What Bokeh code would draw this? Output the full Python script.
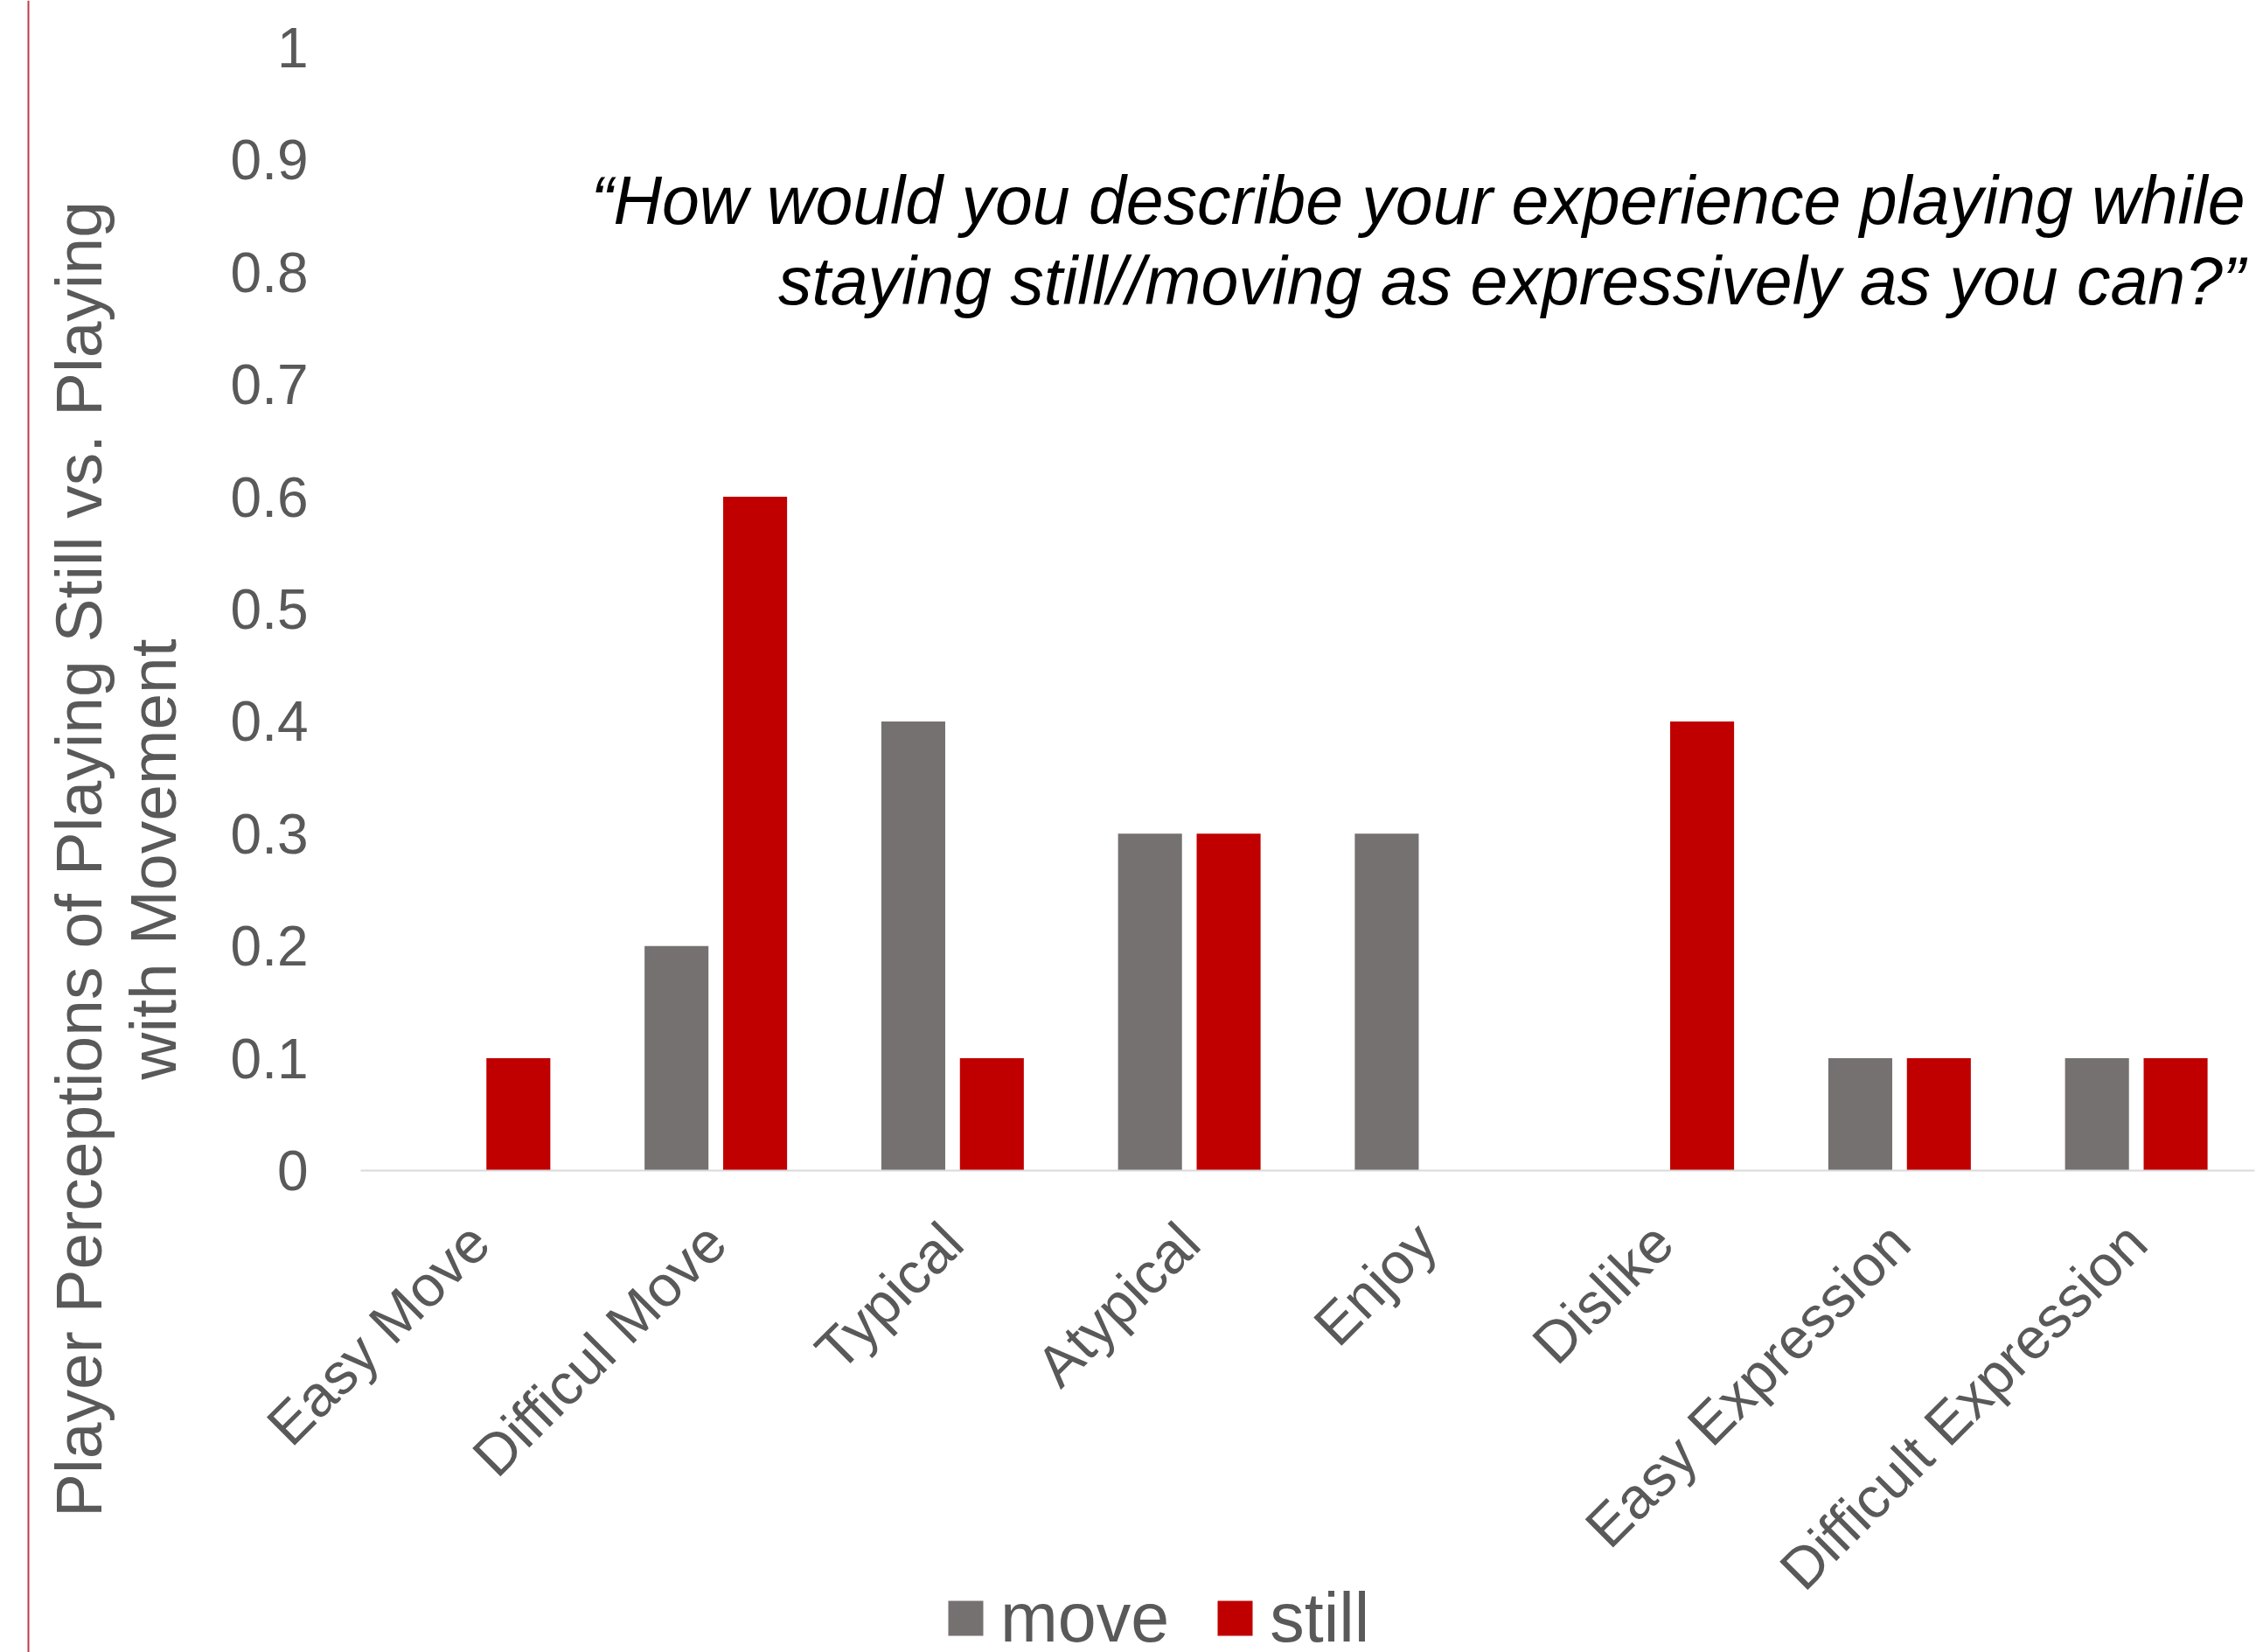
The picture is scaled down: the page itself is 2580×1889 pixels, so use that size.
import math
from bokeh.plotting import figure
from bokeh.models import (FactorRange, ColumnDataSource, Label, Legend, LegendItem,
                          Span, FixedTicker, Range1d, GridBox)
from bokeh.transform import dodge
from bokeh.embed import file_html
from bokeh.resources import INLINE

categories = ["Easy Move", "Difficul Move", "Typical", "Atypical", "Enjoy",
              "Dislike", "Easy Expression", "Difficult Expression"]
move = [0.0, 0.2, 0.4, 0.3, 0.3, 0.0, 0.1, 0.1]
still = [0.1, 0.6, 0.1, 0.3, 0.0, 0.4, 0.1, 0.1]
y_ticks = [0, 0.1, 0.2, 0.3, 0.4, 0.5, 0.6, 0.7, 0.8, 0.9, 1]
series_names = ["move", "still"]
title_lines = ["\u201cHow would you describe your experience playing while",
               "staying still//moving as expressively as you can?\u201d"]
ylabel_lines = ["Player Perceptions of Playing Still vs. Playing", "with Movement"]

GRAY = "#767171"
RED = "#C00000"
TXT = "#595959"
FONT = "Liberation Sans"

W, H = 2580, 1889
LW = 240            # left strip width
LEG_H = 70          # legend strip height (overlaps bottom of main chart)
MAIN_W = W - LW
FL, FR, FT, FB = 412, 2578, 54, 1338   # frame edges in page pixels


def bare(fig, alpha=1.0):
    fig.outline_line_color = None
    fig.background_fill_color = "white"
    fig.border_fill_color = "white"
    fig.background_fill_alpha = alpha
    fig.border_fill_alpha = alpha
    fig.grid.visible = False
    fig.frame_align = False
    return fig


# ---------------- left strip: red rule + y axis title ----------------
left = bare(figure(width=LW, height=H, x_range=Range1d(0, LW), y_range=Range1d(0, H),
                   x_axis_location=None, y_axis_location=None,
                   output_backend="svg", toolbar_location=None, min_border=0))
left.add_layout(Span(location=32, dimension="height", line_color="#C0394B", line_width=2))
for txt, base_x in zip(ylabel_lines, [119 - 30, 204 - 30]):
    left.add_layout(Label(x=base_x, y=H - 982, text=txt, angle=math.pi / 2,
                          text_align="center", text_baseline="alphabetic",
                          text_font=FONT, text_font_size="75px", text_color=TXT))

# ---------------- main chart ----------------
src = ColumnDataSource(dict(cat=categories, move=move, still=still))
p = bare(figure(width=MAIN_W, height=H, x_range=FactorRange(*categories),
                y_range=(0, 1), output_backend="svg", toolbar_location=None,
                min_border_left=FL - LW, min_border_right=W - FR,
                min_border_top=FT, min_border_bottom=H - FB))

r_move = p.vbar(x=dodge("cat", -0.166, range=p.x_range), top="move", width=0.27,
                source=src, fill_color=GRAY, line_color=None)
r_still = p.vbar(x=dodge("cat", 0.166, range=p.x_range), top="still", width=0.27,
                 source=src, fill_color=RED, line_color=None)

ya = p.yaxis[0]
ya.ticker = FixedTicker(ticks=y_ticks)
ya.major_label_overrides = {0: "0", 1: "1"}
ya.axis_line_color = None
ya.major_tick_out = 0
ya.major_tick_in = 0
ya.minor_tick_out = 0
ya.minor_tick_in = 0
ya.major_label_standoff = 60
ya.major_label_text_font = FONT
ya.major_label_text_font_size = "64px"
ya.major_label_text_color = TXT

xa = p.xaxis[0]
xa.axis_line_color = "#D9D9D9"
xa.axis_line_width = 2
xa.major_tick_out = 0
xa.major_tick_in = 0
xa.major_label_orientation = math.pi / 4
xa.major_label_standoff = 71
xa.major_label_text_font = FONT
xa.major_label_text_font_size = "66px"
xa.major_label_text_color = TXT

for txt, base_y in zip(title_lines, [258 - 30, 350 - 30]):
    p.add_layout(Label(x=2567 - FL, y=FB - base_y, x_units="screen", y_units="screen",
                       text=txt, text_align="right", text_baseline="alphabetic",
                       text_font=FONT, text_font_style="italic",
                       text_font_size="77px", text_color="black"))

# ---------------- legend strip (transparent, laid over the chart's bottom) ----------------
leg = bare(figure(width=MAIN_W, height=LEG_H, x_range=FactorRange(*categories),
                  y_range=Range1d(5, 6), x_axis_location=None, y_axis_location=None,
                  output_backend="svg", toolbar_location=None, min_border=0), alpha=0)
sw_move = leg.vbar(x=dodge("cat", -0.166, range=leg.x_range), top="move", width=0.27,
                   source=src, fill_color=GRAY, line_color=None)
sw_still = leg.vbar(x=dodge("cat", 0.166, range=leg.x_range), top="still", width=0.27,
                    source=src, fill_color=RED, line_color=None)
legend = Legend(items=[LegendItem(label=series_names[0], renderers=[sw_move]),
                       LegendItem(label=series_names[1], renderers=[sw_still])],
                location=(1079 - LW, -7), orientation="horizontal",
                glyph_width=50, glyph_height=50, label_standoff=15, spacing=50,
                padding=0, margin=0, border_line_color=None,
                background_fill_alpha=0,
                label_text_font=FONT, label_text_font_size="79px",
                label_text_color=TXT)
leg.add_layout(legend, "center")

grid = GridBox(children=[(left, 0, 0, 2, 1), (p, 0, 1, 2, 1), (leg, 1, 1)],
               rows=["%dpx" % (H - LEG_H), "%dpx" % LEG_H],
               cols=["%dpx" % LW, "%dpx" % MAIN_W], spacing=0)
open("out.html", "w").write(file_html(grid, INLINE))
